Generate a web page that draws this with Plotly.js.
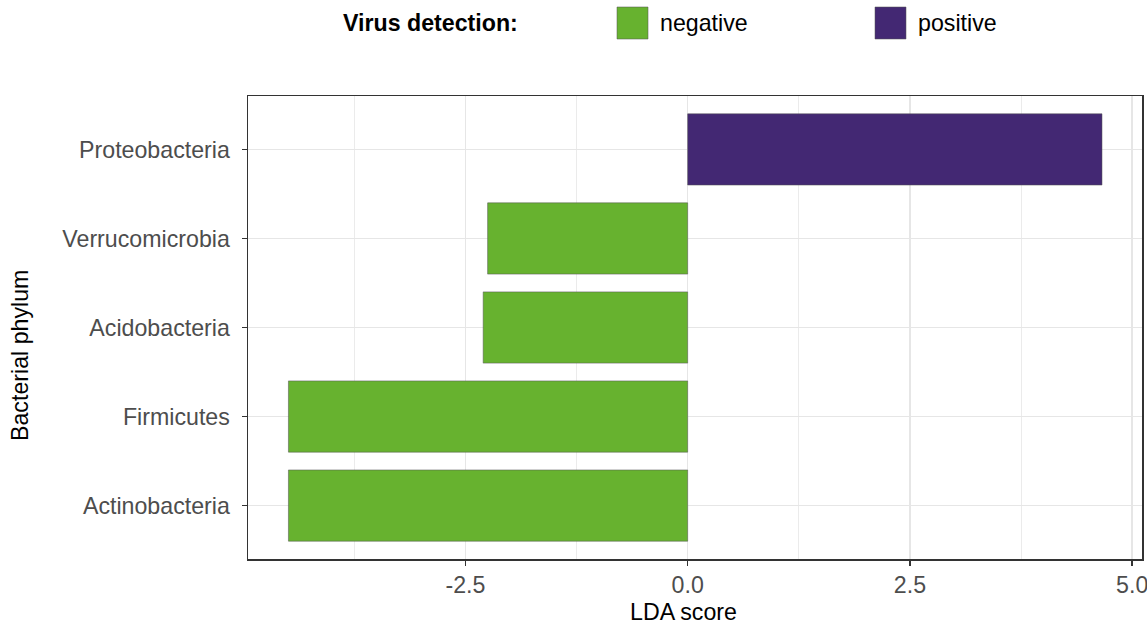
<!DOCTYPE html>
<html>
<head>
<meta charset="utf-8">
<script src="https://cdn.plot.ly/plotly-3.0.1.min.js"></script>
<style>
  html, body { margin: 0; padding: 0; background: #ffffff; }
  #chart { width: 1147px; height: 625px; }
</style>
</head>
<body>
<div id="chart"></div>
<script>
// ---- data ----
const phyla = ['Actinobacteria', 'Firmicutes', 'Acidobacteria', 'Verrucomicrobia', 'Proteobacteria'];
const ldaScores = [-4.49, -4.49, -2.30, -2.25, 4.66];
const detection = ['negative', 'negative', 'negative', 'negative', 'positive'];
const groups = ['negative', 'positive'];
const groupColors = ['#67B22F', '#432873'];
const legendTitle = 'Virus detection:';
const xTickVals = [-2.5, 0, 2.5, 5];
const xTickText = ['-2.5', '0.0', '2.5', '5.0'];
const xMinorVals = [-3.75, -1.25, 1.25, 3.75];
const xTitle = 'LDA score';
const yTitle = 'Bacterial phylum';

// ---- traces ----
const traces = groups.map((g, gi) => {
  const ys = [], xs = [];
  phyla.forEach((p, i) => { if (detection[i] === g) { ys.push(p); xs.push(ldaScores[i]); } });
  return {
    type: 'bar', orientation: 'h', name: g, x: xs, y: ys, width: 0.8,
    marker: { color: groupColors[gi], line: { color: 'rgba(85,85,85,0.75)', width: 0.7 } },
    showlegend: false, hoverinfo: 'x+y'
  };
});

const FONT = '"Liberation Sans", Arial, Helvetica, sans-serif';
const FS = 23.2;

// plot area in pixels
const W = 1147, H = 625;
const L = 248, R = 5, T = 96, B = 66;
const pw = W - L - R, ph = H - T - B;
const px = v => (v - L) / pw;          // pixel -> paper x
const py = v => (H - B - v) / ph;      // pixel -> paper y

// custom legend (large square keys like the reference)
const legendKeyX = [617, 875];
const shapes = [];
const annotations = [];
annotations.push({ xref: 'paper', yref: 'paper', x: px(341), y: py(23), xanchor: 'left', yanchor: 'middle',
  text: '<b>' + legendTitle + '</b>', showarrow: false, font: { family: FONT, size: FS, color: '#000000' } });
groups.forEach((g, gi) => {
  shapes.push({ type: 'rect', xref: 'paper', yref: 'paper',
    x0: px(legendKeyX[gi]), x1: px(legendKeyX[gi] + 31), y0: py(39), y1: py(7),
    fillcolor: groupColors[gi], line: { color: 'rgba(85,85,85,0.75)', width: 0.7 } });
  annotations.push({ xref: 'paper', yref: 'paper', x: px(legendKeyX[gi] + 41), y: py(23), xanchor: 'left', yanchor: 'middle',
    text: g, showarrow: false, font: { family: FONT, size: FS, color: '#000000' } });
});
// axis titles
annotations.push({ xref: 'paper', yref: 'paper', x: px(683), y: py(612), xanchor: 'center', yanchor: 'middle',
  text: xTitle, showarrow: false, font: { family: FONT, size: FS, color: '#000000' } });
annotations.push({ xref: 'paper', yref: 'paper', x: px(20), y: py(355), xanchor: 'center', yanchor: 'middle',
  text: yTitle, textangle: -90, showarrow: false, font: { family: FONT, size: FS, color: '#000000' } });

const layout = {
  width: W, height: H,
  margin: { l: L, r: R, t: T, b: B, pad: 0 },
  paper_bgcolor: '#ffffff', plot_bgcolor: '#ffffff',
  barmode: 'overlay',
  showlegend: false,
  font: { family: FONT, size: FS, color: '#4D4D4D' },
  xaxis: {
    range: [-4.945, 5.110],
    tickmode: 'array', tickvals: xTickVals, ticktext: xTickText,
    ticklabeloverflow: 'allow',
    ticklabelstandoff: 0,
    showgrid: true, gridcolor: '#E6E6E6', gridwidth: 1.6,
    minor: { tickmode: 'array', tickvals: xMinorVals, showgrid: true, gridcolor: '#EBEBEB', gridwidth: 1, ticks: '' },
    zeroline: false,
    showline: true, mirror: true, linecolor: '#333333', linewidth: 1.5,
    ticks: 'outside', ticklen: 5, tickwidth: 1.5, tickcolor: '#333333',
    tickfont: { family: FONT, size: FS, color: '#4D4D4D' },
    fixedrange: true
  },
  yaxis: {
    type: 'category', categoryorder: 'array', categoryarray: phyla,
    range: [-0.6, 4.6],
    ticklabelstandoff: 7,
    showgrid: true, gridcolor: '#E6E6E6', gridwidth: 1.6,
    zeroline: false,
    showline: true, mirror: true, linecolor: '#333333', linewidth: 1.5,
    ticks: 'outside', ticklen: 5, tickwidth: 1.5, tickcolor: '#333333',
    tickfont: { family: FONT, size: FS, color: '#4D4D4D' },
    fixedrange: true
  },
  shapes: shapes,
  annotations: annotations
};

Plotly.newPlot('chart', traces, layout, { displayModeBar: false, staticPlot: true });
</script>
</body>
</html>
